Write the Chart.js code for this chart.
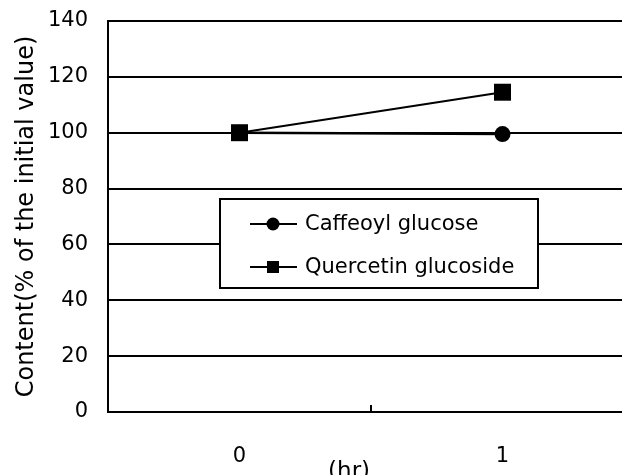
<!DOCTYPE html>
<html>
<head>
<meta charset="utf-8">
<script src="https://cdn.jsdelivr.net/npm/chart.js@4.4.0/dist/chart.umd.min.js"></script>
<style>
html, body { margin: 0; padding: 0; background: #fff; overflow: hidden; }
#wrap { width: 650px; height: 475px; }
</style>
</head>
<body>
<div id="wrap"><canvas id="chart" width="650" height="475"></canvas></div>
<script>
// data
var hours = ["0", "1"];
var caffeoyl = [100, 99.5];
var quercetin = [100, 114.5];
var yMin = 0, yMax = 140, yStep = 20;

var FONT = "DejaVu Sans";

// legend box drawn inside the plot, like the original
var boxLegend = {
	id: "boxLegend",
	afterDatasetsDraw: function(chart) {
		var ctx = chart.ctx;
		var x0 = 220, y0 = 199, w = 318, h = 89;
		ctx.save();
		ctx.fillStyle = "#fff";
		ctx.fillRect(x0, y0, w, h);
		ctx.strokeStyle = "#000";
		ctx.lineWidth = 2;
		ctx.strokeRect(x0, y0, w, h);
		ctx.font = "21px " + FONT;
		ctx.textBaseline = "middle";
		ctx.fillStyle = "#000";
		chart.data.datasets.forEach(function(ds, i) {
			var y = y0 + 25 + i * 43;
			ctx.beginPath();
			ctx.lineWidth = 2;
			ctx.moveTo(x0 + 30, y);
			ctx.lineTo(x0 + 77, y);
			ctx.stroke();
			var mx = x0 + 53;
			if (ds.pointStyle == "rect") {
				ctx.fillRect(mx - 6, y - 6, 12, 12);
			} else {
				ctx.beginPath();
				ctx.arc(mx, y, 6.5, 0, Math.PI * 2);
				ctx.fill();
			}
			ctx.fillText(ds.label, x0 + 85, y + 1);
		});
		ctx.restore();
	}
};

new Chart(document.getElementById("chart"), {
	type: "line",
	data: {
		labels: hours,
		datasets: [{
			label: "Caffeoyl glucose",
			data: caffeoyl,
			borderColor: "#000",
			backgroundColor: "#000",
			borderWidth: 2.5,
			pointStyle: "circle",
			pointRadius: 8,
			pointBorderWidth: 0
		}, {
			label: "Quercetin glucoside",
			data: quercetin,
			borderColor: "#000",
			backgroundColor: "#000",
			borderWidth: 2,
			pointStyle: "rect",
			pointRadius: 12,
			pointBorderWidth: 0
		}]
	},
	options: {
		responsive: false,
		animation: false,
		layout: { padding: { top: 21, right: 16, left: 0, bottom: 0 } },
		plugins: { legend: { display: false }, tooltip: { enabled: false } },
		scales: {
			x: {
				offset: true,
				afterFit: function(s) { s.height = 63; },
				border: { display: true, color: "#000", width: 2 },
				grid: { display: true, offset: true, drawOnChartArea: false, drawTicks: true, tickLength: -7, color: "#000", lineWidth: 2 },
				ticks: { color: "#000", font: { family: FONT, size: 21 }, padding: 39, maxRotation: 0 },
				title: { display: true, text: "(hr)      ", color: "#000", font: { family: FONT, size: 23 }, padding: { top: 0, bottom: -11 } }
			},
			y: {
				min: yMin,
				max: yMax,
				afterFit: function(s) { s.width = 108; s.paddingTop = 8; s.paddingBottom = 8; },
				border: { display: true, color: "#000", width: 2 },
				grid: { color: "#000", lineWidth: 2, drawTicks: false },
				ticks: { stepSize: yStep, color: "#000", font: { family: FONT, size: 21 }, padding: 20 },
				title: { display: true, text: "Content(% of the initial value)", color: "#000", font: { family: FONT, size: 24 }, padding: { top: 12, bottom: 0 } }
			}
		}
	},
	plugins: [boxLegend]
});
</script>
</body>
</html>
